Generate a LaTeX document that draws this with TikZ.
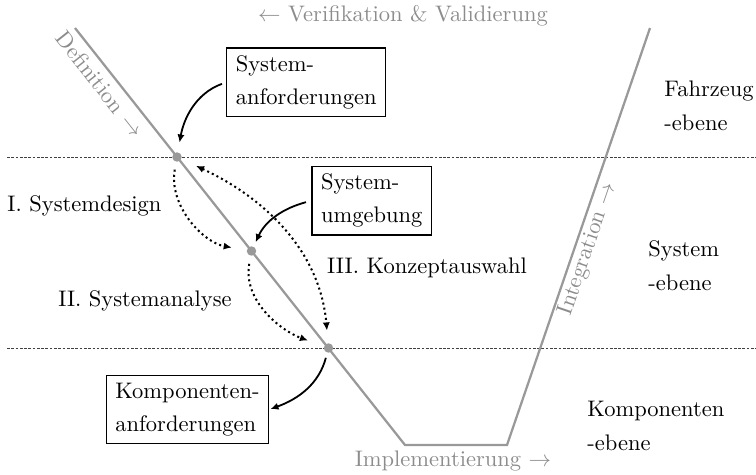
\documentclass[tikz,border=0pt]{standalone}
\usetikzlibrary{arrows.meta}
\begin{document}
\begin{tikzpicture}[x=0.4444pt,y=-0.4444pt,
  vline/.style={draw=black!40,line width=1pt,line join=miter},
  levelline/.style={dash pattern=on 1.2pt off 0.7pt,line width=0.45pt,draw=black!75},
  box/.style={draw,line width=0.55pt,align=left,inner xsep=4pt,inner ysep=3.3pt},
  vdot/.style={circle,fill=black!40,inner sep=0pt,minimum size=4.2pt},
  glabel/.style={text=black!45},
  lab/.style={anchor=base},
  lvl/.style={anchor=base west,align=left,inner sep=0pt},
  sarrow/.style={-{Latex[length=3.6pt,width=3.2pt]},line width=0.8pt},
  darrow/.style={-{Latex[length=3.6pt,width=3.2pt]},line width=0.9pt,dash pattern=on 0.9pt off 1.4pt},
  dbarrow/.style={{Latex[length=3.6pt,width=3.2pt]}-{Latex[length=3.6pt,width=3.2pt]},line width=0.9pt,dash pattern=on 0.9pt off 1.4pt},
]
\useasboundingbox (0,0) rectangle (756,474);

% level lines
\coordinate (l1a) at (7,157);
\coordinate (l1b) at (756,157);
\coordinate (l2a) at (7,348);
\coordinate (l2b) at (756,348);
\draw[levelline] (l1a) -- (l1b);
\draw[levelline] (l2a) -- (l2b);

% V line
\coordinate (v1) at (75,28);
\coordinate (v2) at (405,445);
\coordinate (v3) at (507,445);
\coordinate (v4) at (650,28);
\draw[vline] (v1) -- (v2) -- (v3) -- (v4);

% gray labels
\node[glabel,lab] (verif) at (403,21.7) {$\leftarrow$ Verifikation \& Validierung};
\node[glabel,lab] (impl) at (453,466.5) {Implementierung $\rightarrow$};
\node[glabel,rotate=-51.65] (defi) at (100,84) {Definition $\rightarrow$};
\node[glabel,rotate=71.07] (integ) at (588,249) {Integration $\rightarrow$};

% dots
\node[vdot] (d1) at (177,157) {};
\node[vdot] (d2) at (251.5,251) {};
\node[vdot] (d3) at (328.5,348) {};

% boxes
\node[box] (sa) at (306.2,82.3) {System-\\[2.7pt]anforderungen};
\node[box] (su) at (371.7,200.7) {System-\\[2.7pt]umgebung};
\node[box] (ka) at (187.5,409.5) {Komponenten-\\[2.7pt]anforderungen};

% phase labels
\node[lab] (p1) at (84.5,211.7) {I. Systemdesign};
\node[lab] (p2) at (145,306.5) {II. Systemanalyse};
\node[lab] (p3) at (427,273) {III. Konzeptauswahl};

% level labels (base = baseline of last line)
\node[lvl] (e1) at (664,130) {Fahrzeug\\[2.7pt]-ebene};
\node[lvl] (e2) at (648,290) {System\\[2.7pt]-ebene};
\node[lvl] (e3) at (587,450) {Komponenten\\[2.7pt]-ebene};

% solid arrows
\draw[sarrow,shorten <=2pt,shorten >=4.2pt] (sa.west) to[out=200,in=80] (d1);
\draw[sarrow,shorten <=2.5pt,shorten >=2pt] (su.west) to[out=195,in=65] (d2);
\draw[sarrow,shorten <=2.2pt,shorten >=0.5pt] (d3) to[out=-105,in=20] (ka.east);

% dotted arrows
\draw[darrow,shorten <=3.4pt,shorten >=6.6pt] (d1) to[out=-100,in=170] (d2);
\draw[darrow,shorten <=3.5pt,shorten >=7.4pt] (d2) to[out=-100,in=160] (d3);
\draw[dbarrow,shorten <=7pt,shorten >=5.5pt] (d1) to[out=-25,in=95] (d3);
\end{tikzpicture}
\end{document}
